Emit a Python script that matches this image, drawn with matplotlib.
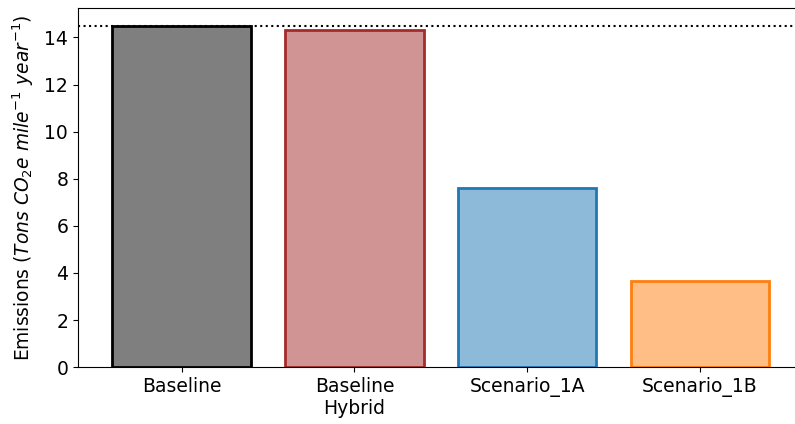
import matplotlib
matplotlib.use('Agg')
import matplotlib.pyplot as plt

scenarios = ['Baseline', 'Baseline\nHybrid', 'Scenario_1A', 'Scenario_1B']
emissions = [14.5, 14.3, 7.6, 3.67]
edge_colors = ['black', 'brown', 'tab:blue', 'tab:orange']
baseline_level = 14.5

figure = plt.figure(figsize=(7.95, 4.24), dpi=100)
axis = figure.add_axes([0.098, 0.134, 0.913, 0.847])

positions = range(len(scenarios))
for pos, value, color in zip(positions, emissions, edge_colors):
    axis.bar(pos, value, width=0.8, color=color, alpha=0.5)
    axis.bar(pos, value, width=0.8, fill=False, edgecolor=color, linewidth=2)

axis.axhline(baseline_level, color='black', linestyle=':', linewidth=1.5)
axis.set_xlim(-0.6, 3.6)
axis.set_ylim(0, 15.25)
axis.set_xticks(list(positions))
axis.set_xticklabels(scenarios, fontsize=13.5)
axis.tick_params(axis='y', labelsize=13.5)
axis.spines['right'].set_visible(False)
axis.set_ylabel('Emissions ($Tons\\ CO_2e\\ mile^{-1}\\ year^{-1}$)', fontsize=13.4, labelpad=6)

figure.savefig('out.png', dpi=100)
plt.close(figure)
